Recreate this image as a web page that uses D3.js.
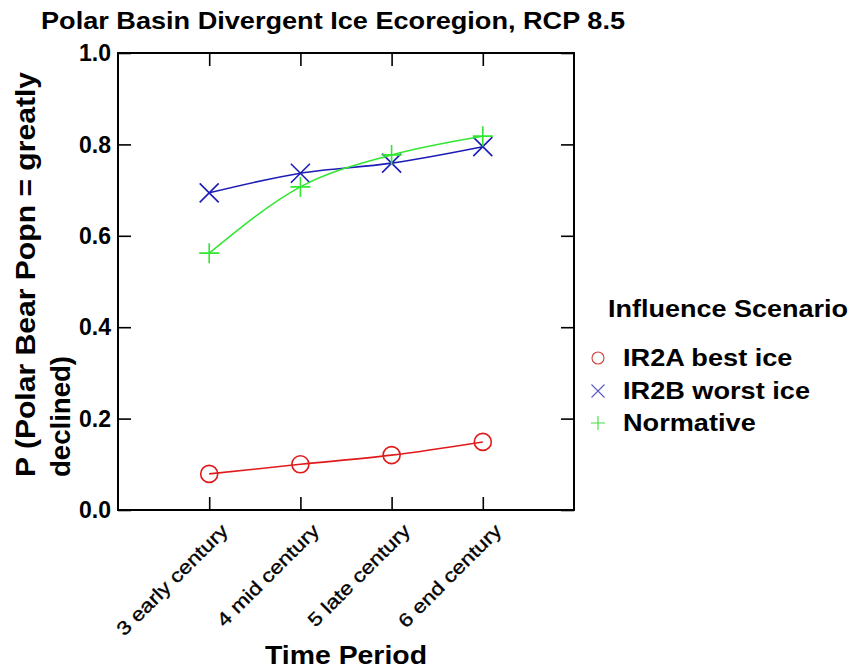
<!DOCTYPE html>
<html>
<head>
<meta charset="utf-8">
<script src="https://cdn.jsdelivr.net/npm/d3@7/dist/d3.min.js"></script>
<style>
  html, body { margin: 0; padding: 0; background: #fff; }
  svg { display: block; font-family: "Liberation Sans", Arial, sans-serif; }
</style>
</head>
<body>
<svg id="chart" width="852" height="671"></svg>
<script>
// ---- data ----
const categories = ["3 early century", "4 mid century", "5 late century", "6 end century"];
const seriesNames = ["IR2A best ice", "IR2B worst ice", "Normative"];
const ir2aValues = [0.079, 0.100, 0.120, 0.149];
const ir2bValues = [0.694, 0.737, 0.759, 0.795];
const normativeValues = [0.562, 0.707, 0.777, 0.818];
const yTicks = [0.0, 0.2, 0.4, 0.6, 0.8, 1.0];
const titleText = "Polar Basin Divergent Ice Ecoregion, RCP 8.5";
const xTitle = "Time Period";
const yTitleLines = ["P (Polar Bear Popn = greatly", "declined)"];
const legendTitle = "Influence Scenario";

// ---- layout ----
const svg = d3.select("#chart");
const L = 118, R = 574, T = 53, B = 510;
const x = d3.scalePoint().domain(categories).range([L, R]).padding(1);
const y = d3.scaleLinear().domain([0, 1]).range([B, T]);

const series = [
  { name: seriesNames[0], values: ir2aValues, color: "#e01a1a", legendColor: "#d24040", shape: "circle" },
  { name: seriesNames[1], values: ir2bValues, color: "#1c1cb8", legendColor: "#5858c0", shape: "x" },
  { name: seriesNames[2], values: normativeValues, color: "#33e633", legendColor: "#44dd44", shape: "plus" }
];

// title
svg.append("text")
  .attr("x", 41).attr("y", 29)
  .attr("font-size", 24).attr("font-weight", "bold")
  .attr("textLength", 584).attr("lengthAdjust", "spacingAndGlyphs")
  .text(titleText);

// axes (inward ticks on all four sides)
const tick = 13;
svg.append("g").attr("transform", `translate(0,${B})`)
  .call(d3.axisBottom(x).tickSize(-tick).tickSizeOuter(0).tickFormat(""))
  .call(g => g.select(".domain").remove());
svg.append("g").attr("transform", `translate(0,${T})`)
  .call(d3.axisTop(x).tickSize(-tick).tickSizeOuter(0).tickFormat(""))
  .call(g => g.select(".domain").remove());
svg.append("g").attr("transform", `translate(${L},0)`)
  .call(d3.axisLeft(y).tickValues(yTicks).tickSize(-tick).tickSizeOuter(0).tickFormat(""))
  .call(g => g.select(".domain").remove());
svg.append("g").attr("transform", `translate(${R},0)`)
  .call(d3.axisRight(y).tickValues(yTicks).tickSize(-tick).tickSizeOuter(0).tickFormat(""))
  .call(g => g.select(".domain").remove());
svg.selectAll(".tick line").attr("stroke", "#000").attr("stroke-width", 1.6);

svg.append("rect")
  .attr("x", L).attr("y", T).attr("width", R - L).attr("height", B - T)
  .attr("fill", "none").attr("stroke", "#000").attr("stroke-width", 2);

// y tick labels
svg.append("g").selectAll("text").data(yTicks).join("text")
  .attr("x", L - 7).attr("y", d => y(d)).attr("dy", "0.36em")
  .attr("text-anchor", "end").attr("font-size", 23).attr("font-weight", "bold")
  .text(d => d3.format(".1f")(d));

// x tick labels (rotated)
const xLab = svg.append("g").selectAll("text").data(categories).join("text")
  .attr("transform", d => `translate(${x(d) + 20},532) rotate(-45)`)
  .attr("text-anchor", "end").attr("font-size", 19)
  .attr("stroke", "#000").attr("stroke-width", 0.35)
  .text(d => d);
xLab.each(function () {
  const w = this.getComputedTextLength();
  d3.select(this).attr("textLength", w * 1.19).attr("lengthAdjust", "spacingAndGlyphs");
});

// x title
svg.append("text")
  .attr("x", (L + R) / 2).attr("y", 664).attr("text-anchor", "middle")
  .attr("font-size", 25).attr("font-weight", "bold")
  .attr("textLength", 162).attr("lengthAdjust", "spacingAndGlyphs")
  .text(xTitle);

// y title (two lines)
const yLens = [405, 121];
yTitleLines.forEach((t, i) => {
  svg.append("text")
    .attr("transform", `translate(${35 + i * 35},477) rotate(-90)`)
    .attr("font-size", 28).attr("font-weight", "bold")
    .attr("textLength", yLens[i]).attr("lengthAdjust", "spacingAndGlyphs")
    .text(t);
});

// marker drawing
function drawMarker(g, shape, cx, cy, s, color, sw) {
  if (shape === "circle") {
    g.append("circle").attr("cx", cx).attr("cy", cy).attr("r", s)
      .attr("fill", "none").attr("stroke", color).attr("stroke-width", sw);
  } else if (shape === "x") {
    g.append("path").attr("d", `M${cx - s},${cy - s}L${cx + s},${cy + s}M${cx - s},${cy + s}L${cx + s},${cy - s}`)
      .attr("stroke", color).attr("stroke-width", sw).attr("fill", "none");
  } else {
    g.append("path").attr("d", `M${cx - s},${cy}L${cx + s},${cy}M${cx},${cy - s}L${cx},${cy + s}`)
      .attr("stroke", color).attr("stroke-width", sw).attr("fill", "none");
  }
}

// lines + markers
const line = d3.line().x((d, i) => x(categories[i])).y(d => y(d)).curve(d3.curveMonotoneX);
const markerSize = { circle: 8.5, x: 9.5, plus: 10 };
series.forEach(s => {
  svg.append("path").attr("d", line(s.values))
    .attr("fill", "none").attr("stroke", s.color).attr("stroke-width", 1.6);
  const g = svg.append("g");
  s.values.forEach((v, i) => drawMarker(g, s.shape, x(categories[i]), y(v), markerSize[s.shape], s.color, 1.6));
});

// legend
svg.append("text")
  .attr("x", 608).attr("y", 317)
  .attr("font-size", 23).attr("font-weight", "bold")
  .attr("textLength", 240).attr("lengthAdjust", "spacingAndGlyphs")
  .text(legendTitle);
const legendRows = [358, 391, 423];
const legendSize = { circle: 6, x: 6.5, plus: 7 };
series.forEach((s, i) => {
  const g = svg.append("g");
  drawMarker(g, s.shape, 598, legendRows[i], legendSize[s.shape], s.legendColor, 1.1);
  const t = g.append("text")
    .attr("x", 623).attr("y", legendRows[i]).attr("dy", "0.36em")
    .attr("font-size", 23).attr("font-weight", "bold")
    .text(s.name);
  const w = t.node().getComputedTextLength();
  t.attr("textLength", w * 1.18).attr("lengthAdjust", "spacingAndGlyphs");
});
</script>
</body>
</html>
